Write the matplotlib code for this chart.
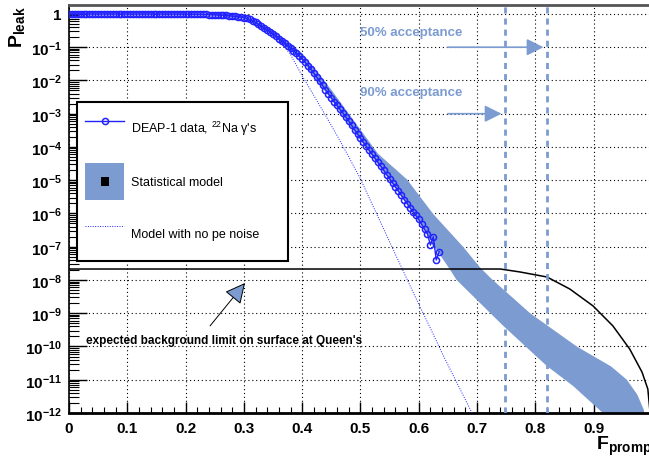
import matplotlib
matplotlib.use("Agg")
import matplotlib.pyplot as plt
import numpy as np
from matplotlib.patches import Rectangle
from matplotlib.ticker import FixedLocator, FuncFormatter, LogLocator, MultipleLocator

plt.rcParams['font.family'] = ['Liberation Sans', 'DejaVu Sans']
plt.rcParams['mathtext.fontset'] = 'custom'
plt.rcParams['mathtext.rm'] = 'Liberation Sans'
plt.rcParams['mathtext.bf'] = 'Liberation Sans:bold'
plt.rcParams['mathtext.it'] = 'Liberation Sans:italic'

# DEAP-1 data (22Na gammas), bins of 0.005 in F_prompt, log10(P_leak)
data_f = np.round(np.arange(0, 0.636, 0.005), 3)
data_logp = [
    0.0, 0.0, 0.0, 0.0, 0.0, 0.0, 0.0, 0.0, 0.0, 0.0,
    0.0, 0.0, 0.0, 0.0, 0.0, 0.0, 0.0, 0.0, 0.0, 0.0,
    0.0, 0.0, 0.0, 0.0, 0.0, 0.0, 0.0, 0.0, 0.0, 0.0,
    0.0, 0.0, 0.0, 0.0, 0.0, 0.0, 0.0, 0.0, 0.0, 0.0,
    -0.003, -0.004, -0.005, -0.007, -0.009, -0.011, -0.013, -0.016, -0.019, -0.022,
    -0.026, -0.030, -0.035, -0.040, -0.046, -0.053, -0.061, -0.070, -0.081, -0.094,
    -0.11, -0.13, -0.16, -0.20, -0.25, -0.31, -0.37, -0.42, -0.48, -0.54,
    -0.60, -0.67, -0.74, -0.81, -0.88, -0.95, -1.02, -1.10, -1.18, -1.26,
    -1.35, -1.45, -1.55, -1.66, -1.78, -1.90, -2.02, -2.15, -2.28, -2.40,
    -2.52, -2.64, -2.75, -2.87, -2.98, -3.10, -3.22, -3.35, -3.48, -3.61,
    -3.74, -3.86, -3.98, -4.10, -4.22, -4.34, -4.46, -4.58, -4.70, -4.83,
    -4.95, -5.08, -5.20, -5.33, -5.45, -5.58, -5.70, -5.83, -5.95, -6.06,
    -6.18, -6.33, -6.48, -6.62, -6.95, -6.70, -7.40, -7.15,
]

# statistical model band: upper (right) and lower (left) edges
band_hi_f = [0.25, 0.30, 0.35, 0.40, 0.45, 0.50, 0.53, 0.58, 0.625, 0.676, 0.705,
             0.725, 0.791, 0.871, 0.93, 0.957, 0.975, 0.986, 0.99]
band_hi_logp = [0.0, -0.07, -0.48, -1.18, -2.28, -3.48, -4.2, -4.98, -6.02, -7.0, -7.62,
                -7.97, -9.0, -10.0, -10.6, -11.0, -11.45, -11.9, -12.3]
band_lo_f = [0.25, 0.30, 0.35, 0.40, 0.45, 0.50, 0.55, 0.60, 0.627, 0.653, 0.665,
             0.745, 0.82, 0.865, 0.914, 0.92]
band_lo_logp = [-0.03, -0.13, -0.64, -1.4, -2.58, -3.8, -5.0, -6.22, -7.0, -7.67, -8.0,
                -9.38, -10.59, -11.19, -11.97, -12.3]

# model without photoelectron noise
model_f = [0.20, 0.25, 0.30, 0.32, 0.34, 0.36, 0.38, 0.40, 0.42, 0.44, 0.46, 0.48,
           0.50, 0.52, 0.54, 0.56, 0.58, 0.60, 0.62, 0.64, 0.66, 0.68, 0.70]
model_logp = [-0.003, -0.026, -0.11, -0.25, -0.48, -0.78, -1.22, -1.86, -2.45, -3.05,
              -3.66, -4.30, -4.96, -5.72, -6.47, -7.23, -7.98, -8.73, -9.45, -10.2,
              -10.9, -11.6, -12.3]

# expected background limit on surface at Queen's
bg_f = [0.0, 0.70, 0.74, 0.774, 0.82, 0.859, 0.899, 0.933, 0.962, 0.983, 0.993, 0.998]
bg_logp = [-7.67, -7.67, -7.67, -7.76, -7.91, -8.27, -8.78, -9.38, -10.08, -10.77,
           -11.28, -12.2]

accept_f = [0.748, 0.82]
accept_labels = ["90% acceptance", "50% acceptance"]
accept_arrow_y = [1e-3, 1e-1]
accept_text_y = [10 ** -2.35, 10 ** -0.54]

band_color = '#7b9bd1'
data_color = '#2222ff'


class BandHandler:
    def legend_artist(self, legend, orig_handle, fontsize, handlebox):
        x0, y0 = -handlebox.xdescent, -handlebox.ydescent
        w, h = handlebox.width, handlebox.height
        rect = Rectangle((x0, y0), w, h, facecolor=band_color, edgecolor='none',
                         transform=handlebox.get_transform())
        s = 6
        sq = Rectangle((x0 + w / 2 - s / 2, y0 + h / 2 - s / 2), s, s, facecolor='black',
                       edgecolor='none', transform=handlebox.get_transform())
        handlebox.add_artist(rect)
        handlebox.add_artist(sq)
        return rect


fig = plt.figure(figsize=(6.49, 4.60), dpi=100)
ax = fig.add_axes([0.1063, 0.1, 0.8937, 0.887])

band = ax.fill(np.r_[band_hi_f, band_lo_f[::-1]],
               10 ** np.r_[band_hi_logp, band_lo_logp[::-1]],
               color=band_color, lw=0, zorder=2, label='Statistical model')

line_data, = ax.plot(data_f, 10 ** np.array(data_logp), color=data_color, lw=1,
                     marker='o', ms=4.4, mfc='none', mew=1.1, zorder=4,
                     label="DEAP-1 data, $^{22}$Na γ's")
line_model, = ax.plot(model_f, 10 ** np.array(model_logp), color=data_color, lw=0.7,
                      ls=(0, (1, 1.5)), zorder=3, label='Model with no pe noise')

ax.plot(bg_f, 10 ** np.array(bg_logp), color='black', lw=1.1, zorder=3)

for f in accept_f:
    ax.axvline(f, color=band_color, lw=2, ls=(0, (2.2, 1.8)), zorder=3)

for lab, fa, ya, yt in zip(accept_labels, accept_f, accept_arrow_y, accept_text_y):
    ax.annotate('', xy=(fa - 0.006, ya), xytext=(0.65, ya),
                arrowprops=dict(arrowstyle='-|>,head_length=0.6,head_width=0.3',
                                color=band_color, lw=1.2, mutation_scale=17,
                                shrinkA=0, shrinkB=0), zorder=5)
    ax.text(0.50, yt, lab, color=band_color, fontsize=9.5, fontweight='bold',
            ha='left', va='center', zorder=5)

ax.annotate('', xy=(0.302, 10 ** -8.09), xytext=(0.242, 10 ** -9.38),
            arrowprops=dict(arrowstyle='-|>,head_length=0.7,head_width=0.35',
                            fc=band_color, ec='black', lw=0.7, mutation_scale=18,
                            shrinkA=0, shrinkB=0), zorder=5)
ax.text(0.029, 10 ** -9.8, "expected background limit on surface at Queen's",
        fontsize=8.5, fontweight='bold', ha='left', va='center', zorder=5)

ax.set_yscale('log')
ax.set_xlim(0, 0.995)
ax.set_ylim(1e-12, 10 ** 0.27)

decades = list(range(-12, 1))
ax.yaxis.set_major_locator(FixedLocator([10.0 ** d for d in decades]))
ax.yaxis.set_minor_locator(LogLocator(base=10, subs=np.arange(2, 10), numticks=30))
ax.yaxis.set_major_formatter(FuncFormatter(
    lambda v, p: r'$\mathbf{1}$' if abs(v - 1) < 1e-9
    else r'$\mathbf{10^{%d}}$' % int(round(np.log10(v)))))
ax.xaxis.set_major_locator(MultipleLocator(0.1))
ax.xaxis.set_minor_locator(MultipleLocator(0.02))
ax.xaxis.set_major_formatter(FuncFormatter(lambda v, p: '0' if abs(v) < 1e-9 else '%.1f' % v))

ax.tick_params(axis='y', which='major', direction='in', length=13, width=1,
               labelsize=11, pad=5, right=False)
ax.tick_params(axis='y', which='minor', direction='in', length=7, width=0.8, right=False)
ax.tick_params(axis='x', which='major', direction='in', length=8, width=1,
               labelsize=11, pad=6, top=False)
ax.tick_params(axis='x', which='minor', direction='in', length=4.5, width=0.8, top=False)
for t in ax.get_xticklabels():
    t.set_fontweight('bold')

ax.grid(True, which='major', color='black', ls=(0, (1, 2.5)), lw=0.8)
ax.set_axisbelow(True)

ax.spines['top'].set_color('#555555')
ax.spines['top'].set_linewidth(2)
ax.spines['right'].set_visible(False)
ax.spines['left'].set_linewidth(1.2)
ax.spines['bottom'].set_linewidth(2)

ax.set_ylabel(r'$\mathbf{P}_{\mathbf{leak}}$', fontsize=14, loc='top')
ax.yaxis.set_label_coords(-0.072, 1.0)
ax.set_xlabel(r'$\mathbf{F}_{\mathbf{prompt}}$', fontsize=14, loc='left')
ax.xaxis.set_label_coords(0.9086, -0.05)

leg = ax.legend([line_data, band[0], line_model],
                [line_data.get_label(), 'Statistical model', line_model.get_label()],
                handler_map={band[0]: BandHandler()},
                loc='upper left', bbox_to_anchor=(0.0138, 0.373, 0.364, 0.389),
                mode='expand', borderaxespad=0, fontsize=9, handlelength=3.1,
                handleheight=4.17, labelspacing=1.24, borderpad=0.68,
                handletextpad=0.56, numpoints=1, fancybox=False, framealpha=1,
                edgecolor='black')
leg.get_frame().set_linewidth(1.5)
leg.set_zorder(6)

fig.savefig('out.png', dpi=100)
